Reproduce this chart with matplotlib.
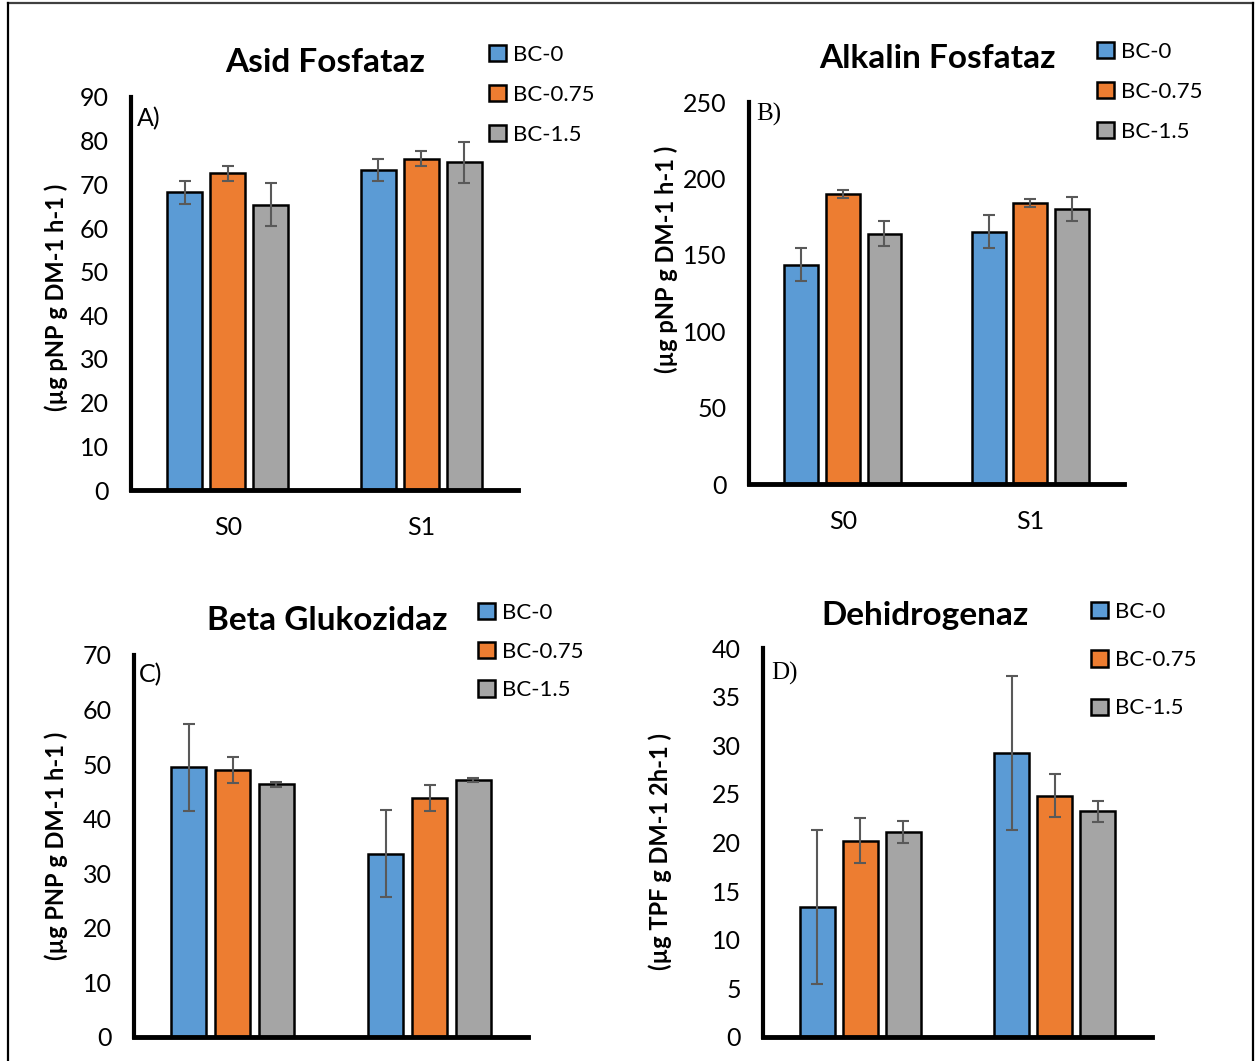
import matplotlib.pyplot as plt
from matplotlib.patches import Patch
from matplotlib.lines import Line2D

# ===============================
# Data
# ===============================
groups = ["S0", "S1"]
series = ["BC-0", "BC-0.75", "BC-1.5"]
colors = ["#5B9BD5", "#ED7D31", "#A5A5A5"]

asid = [[68.2, 73.3], [72.5, 75.9], [65.3, 75.0]]
asid_err = [[2.6, 2.5], [1.7, 1.7], [4.9, 4.8]]

alkalin = [[143.6, 165.2], [189.6, 183.7], [163.9, 179.9]]
alkalin_err = [[10.8, 10.6], [2.7, 2.7], [8.1, 7.9]]

beta = [[49.4, 33.6], [48.9, 43.8], [46.3, 47.1]]
beta_err = [[8.0, 8.0], [2.4, 2.4], [0.4, 0.3]]

dehid = [[13.4, 29.2], [20.2, 24.8], [21.1, 23.2]]
dehid_err = [[7.9, 7.9], [2.3, 2.2], [1.1, 1.1]]

W, H = 1255, 1061
SANS = "Lato"

fig = plt.figure(figsize=(W / 100, H / 100), dpi=100)


def fx(px):
    return px / W


def fy(py):
    return 1 - py / H


def panel(box, vals, errs, ymax, ystep, title, title_xy, ylabel, ylabel_xy,
          letter, letter_xy, letter_font, legend_xy, legend_space, show_x):
    x0, ytop, x1, ybot = box
    ax = fig.add_axes([fx(x0), fy(ybot), fx(x1) - fx(x0), fy(ytop) - fy(ybot)])
    width = 0.18
    offs = [-0.222, 0, 0.222]
    for i in range(3):
        pos = [g + offs[i] for g in range(len(groups))]
        ax.bar(pos, vals[i], width, color=colors[i], edgecolor="black",
               linewidth=1.8, zorder=2)
        ax.errorbar(pos, vals[i], yerr=errs[i], fmt="none", ecolor="#595959",
                    elinewidth=1.5, capsize=4.5, capthick=1.5, zorder=3)
    ax.set_xlim(-0.5, 1.5)
    ax.set_ylim(0, ymax)
    ax.set_yticks(range(0, ymax + 1, ystep))
    if show_x:
        ax.set_xticks(range(len(groups)))
        ax.set_xticklabels(groups)
    else:
        ax.set_xticks([])
    for s in ["top", "right"]:
        ax.spines[s].set_visible(False)
    ax.spines["left"].set_linewidth(3.0)
    ax.spines["bottom"].set_linewidth(3.5)
    ax.tick_params(axis="y", length=0, pad=16, labelsize=18)
    ax.tick_params(axis="x", length=0, pad=19, labelsize=18)
    for t in ax.get_xticklabels() + ax.get_yticklabels():
        t.set_fontfamily(SANS)
    ax.patch.set_alpha(0)

    fig.text(fx(title_xy[0]), fy(title_xy[1]), title, fontsize=24,
             fontweight="bold", family=SANS, ha="center", va="center")
    fig.text(fx(ylabel_xy[0]), fy(ylabel_xy[1]), ylabel, fontsize=17,
             fontweight="bold", family=SANS, rotation=90,
             ha="center", va="center")
    fig.text(fx(letter_xy[0]), fy(letter_xy[1]), letter, fontsize=18,
             family=letter_font, ha="left", va="center")

    handles = [Patch(facecolor=c, edgecolor="black", linewidth=1.8) for c in colors]
    ax.legend(handles, series, loc="upper left",
              bbox_to_anchor=(fx(legend_xy[0]), fy(legend_xy[1])),
              bbox_transform=fig.transFigure, frameon=False, borderpad=0,
              borderaxespad=0, handlelength=0.75, handleheight=0.75,
              handletextpad=0.35, labelspacing=legend_space,
              prop={"family": SANS, "size": 16})
    return ax


panel((131, 97, 518, 490), asid, asid_err, 90, 10, "Asid Fosfataz", (325, 62),
      "(µg pNP g DM-1 h-1 )", (56, 297), "A)", (137, 119), SANS,
      (489, 45), 0.9, True)

panel((749, 102, 1124, 484), alkalin, alkalin_err, 250, 50, "Alkalin Fosfataz",
      (937, 59), "(µg pNP g DM-1 h-1 )", (666, 259), "B)", (756, 114),
      "Liberation Serif", (1097, 42), 0.9, True)

panel((134, 655, 528, 1037), beta, beta_err, 70, 10, "Beta Glukozidaz",
      (327, 621), "(µg PNP g DM-1 h-1 )", (56, 846), "C)", (139, 675), SANS,
      (478, 603), 0.84, False)

panel((763, 648, 1152, 1037), dehid, dehid_err, 40, 5, "Dehidrogenaz",
      (925, 616), "(µg TPF g DM-1 2h-1 )", (660, 851), "D)", (771, 673),
      "Liberation Serif", (1091, 602), 1.27, False)

# outer frame of the figure
fig.add_artist(Line2D([fx(8), fx(1253)], [fy(3), fy(3)], color="#404040",
                      linewidth=1.6, transform=fig.transFigure))
fig.add_artist(Line2D([fx(8), fx(8)], [fy(3), 0], color="black",
                      linewidth=1.6, transform=fig.transFigure))
fig.add_artist(Line2D([fx(1253), fx(1253)], [fy(3), 0], color="black",
                      linewidth=1.6, transform=fig.transFigure))

fig.savefig("out.png", dpi=100)
